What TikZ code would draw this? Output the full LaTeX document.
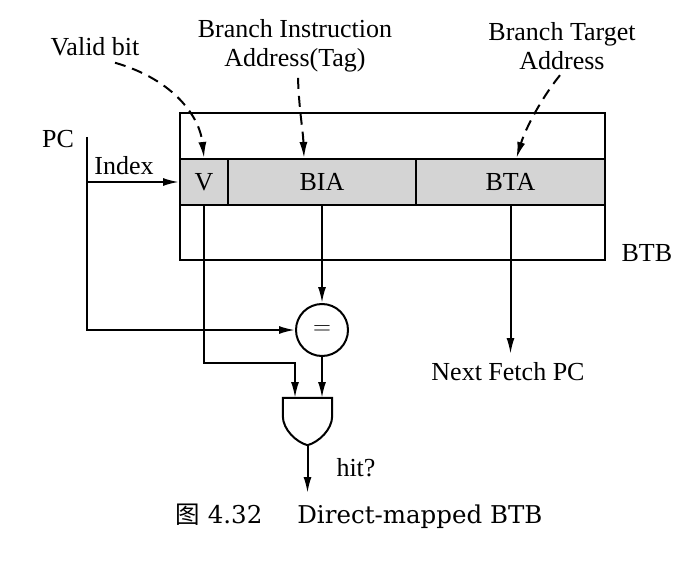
\documentclass[tikz,border=0pt]{standalone}
\usepackage{fontspec}
\setmainfont{Liberation Serif}
\newfontfamily\cjk{Noto Sans CJK SC}
\newfontfamily\capfont{DejaVu Serif}
\usetikzlibrary{arrows.meta}

\begin{document}
\begin{tikzpicture}[x=1pt,y=-1pt,
    every node/.style={font=\fontsize{26}{29}\selectfont},
    wire/.style={line width=2pt},
    arr/.style={wire,-{Latex[length=16pt,width=8pt]}},
    note/.style={arr,dash pattern=on 11pt off 7pt},
    cell/.style={draw,line width=2pt,fill=black!17,minimum height=46pt,inner sep=0pt}]
    \useasboundingbox (0,0) rectangle (687,564);

    % table
    \node[draw,line width=2pt,minimum width=425pt,minimum height=147pt,inner sep=0pt] (btb) at (392.5,186.5) {};
    \node[cell,minimum width=48pt] (v) at (204,182) {V};
    \node[cell,minimum width=188pt] (bia) at (322,182) {BIA};
    \node[cell,minimum width=189pt] (bta) at (510.5,182) {BTA};
    \node[anchor=west] (btbl) at (618,253) {BTB};

    % labels on top
    \node (vb) at (95,47) {Valid bit};
    \node[align=center] (bial) at (295,46) {Branch Instruction\\Address(Tag)};
    \node[align=center] (btal) at (562,46) {Branch Target\\Address};
    \draw[note] ([xshift=20pt,yshift=-3pt]vb.south) .. controls (175,80) and (200,118) .. (v.north);
    \draw[note] ([xshift=3pt,yshift=-2pt]bial.south) .. controls (299,110) and (303,130) .. ([xshift=-18pt]bia.north);
    \draw[note] ([xshift=-2pt,yshift=-2pt]btal.south) .. controls (540,100) and (525,130) .. ([xshift=6pt]bta.north);

    % PC and index
    \node (pc) at (58,139) {PC};
    \coordinate (pctop) at (87,137);
    \coordinate (pcidx) at (87,182);
    \node (idx) at (124,166) {Index};
    \draw[arr] (pcidx) -- (v.west);

    % compare and gate
    \node[draw,circle,line width=2pt,minimum size=52pt,inner sep=0pt] (cmp) at (322,330) {$=$};
    \node[minimum width=49pt,minimum height=47pt,inner sep=0pt] (gate) at (307.5,421.5) {};
    \draw[wire] (gate.north west) -- (gate.north east) -- ++(0,18)
        .. controls +(0,14) and +(11,-3) .. (gate.south)
        .. controls +(-11,-3) and +(0,14) .. ([yshift=-18pt]gate.north west) -- cycle;
    \coordinate (in1) at (295,398);
    \coordinate (in2) at (322,398);
    \draw[arr] (pctop) |- (cmp.west);
    \draw[arr] (bia.south) -- (cmp.north);
    \draw[arr] (v.south) -- ++(0,157) -| (in1);
    \draw[arr] (cmp.south) -- (in2);
    \coordinate (hitend) at (307.5,493);
    \draw[arr] (gate.south) -- (hitend);
    \node (hit) at (356,468) {hit?};

    % next fetch
    \node (nfpc) at (508,372) {Next Fetch PC};
    \draw[arr] (bta.south) -- (bta.south |- 0,354);

    % caption
    \node[anchor=west,font=\capfont\fontsize{24.5}{28}\selectfont] (cap) at (172,516)
        {{\cjk 图} 4.32\hspace{35pt}Direct-mapped BTB};
\end{tikzpicture}
\end{document}
